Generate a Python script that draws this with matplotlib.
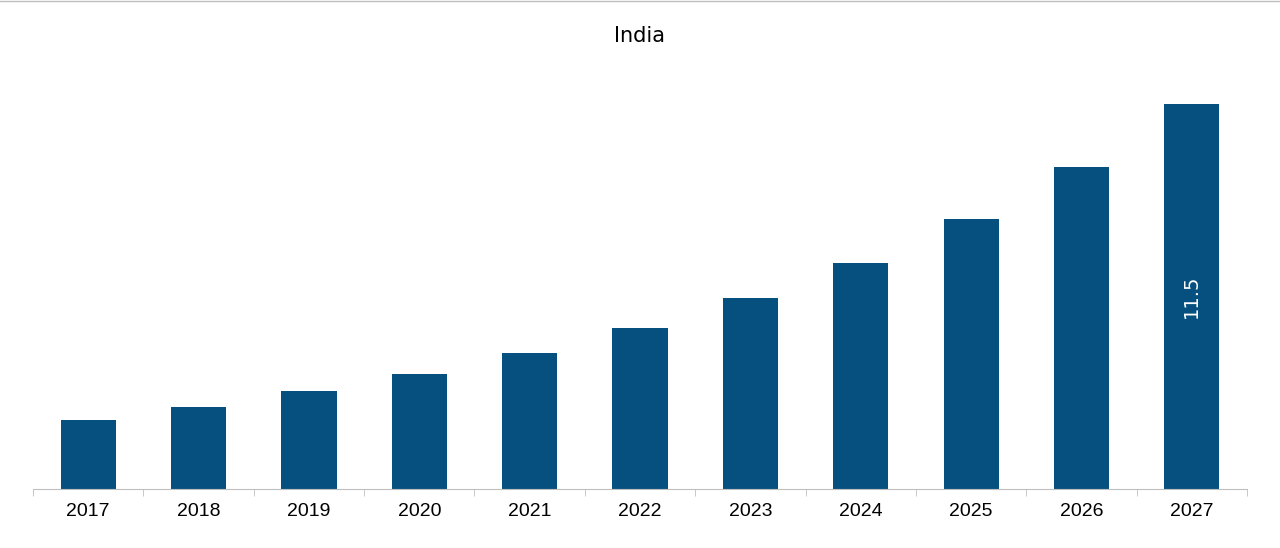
import matplotlib
matplotlib.use("Agg")
import matplotlib.pyplot as plt
from matplotlib.lines import Line2D

years = ["2017","2018","2019","2020","2021","2022","2023","2024","2025","2026","2027"]
values = [2.06,2.45,2.93,3.43,4.06,4.81,5.70,6.75,8.06,9.62,11.5]

fig = plt.figure(figsize=(12.8,5.48), dpi=100)
W,H = 1280,548
ax = fig.add_axes([33/W, 1-489/H, (1247-33)/W, (489-80)/H])
x = list(range(len(years)))
bars = ax.bar(x, values, width=0.5, color="#06507F")
ax.set_xlim(-0.5, len(years)-0.5)
ax.set_ylim(0, (489-80)/((489-104)/11.5))
ax.set_yticks([])
for s in ["top","right","left"]:
    ax.spines[s].set_visible(False)
ax.spines["bottom"].set_color("#BFBFBF")
ax.set_xticks(x)
ax.set_xticklabels(years, fontsize=14, fontfamily="Liberation Sans")
ax.tick_params(axis="x", which="major", length=0, pad=10)
ax.set_xticks([i-0.5 for i in range(len(years)+1)], minor=True)
ax.tick_params(axis="x", which="minor", length=5, color="#BFBFBF")
ax.text(x[-1], values[-1]/2, "11.5", rotation=90, color="white", ha="center", va="center", fontsize=14)
fig.text(0.5, 1-36/H, "India", ha="center", va="center", fontsize=15)
fig.add_artist(Line2D([0,1],[1-1/H,1-1/H], color="#BFBFBF", lw=1))
fig.savefig("out.png", dpi=100)
